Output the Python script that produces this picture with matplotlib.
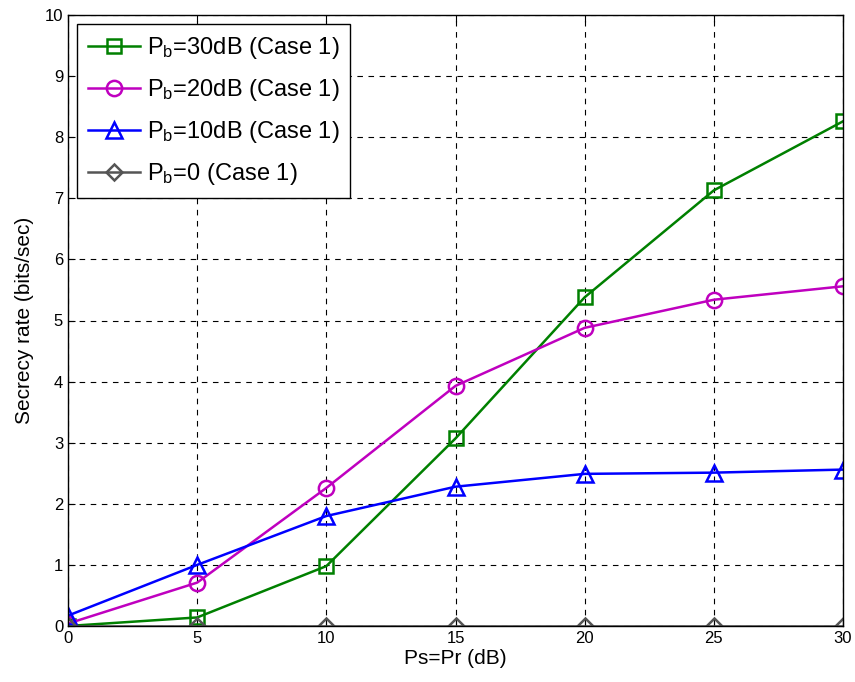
import numpy as np
import matplotlib.pyplot as plt

plt.rcParams['font.family'] = ['Liberation Sans', 'DejaVu Sans']
plt.rcParams['mathtext.fontset'] = 'custom'
plt.rcParams['mathtext.rm'] = 'Liberation Sans'
plt.rcParams['mathtext.it'] = 'Liberation Sans'

snr = [0, 5, 10, 15, 20, 25, 30]
rate_pb30 = [0.0, 0.14, 0.98, 3.07, 5.38, 7.13, 8.26]
rate_pb20 = [0.04, 0.71, 2.26, 3.93, 4.88, 5.34, 5.56]
rate_pb10 = [0.17, 1.0, 1.8, 2.28, 2.49, 2.51, 2.56]
rate_pb0 = [0, 0, 0, 0, 0, 0, 0]

fig = plt.figure(figsize=(8.55, 6.82), dpi=100)
ax = fig.add_axes([68/855, 1 - 626/682, 775/855, 611/682])

kw = dict(lw=1.8, mfc='none', mew=1.8)
ax.plot(snr, rate_pb30, color='#008000', marker='s', ms=10,
        label=r'P$_{\mathrm{b}}$=30dB (Case 1)', **kw)
ax.plot(snr, rate_pb20, color='#bf00bf', marker='o', ms=11,
        label=r'P$_{\mathrm{b}}$=20dB (Case 1)', **kw)
ax.plot(snr, rate_pb10, color='#0000ff', marker='^', ms=11,
        label=r'P$_{\mathrm{b}}$=10dB (Case 1)', **kw)
ax.plot(snr, rate_pb0, color='#555555', marker='D', ms=8,
        label=r'P$_{\mathrm{b}}$=0 (Case 1)', **kw)

ax.set_xlim(0, 30)
ax.set_ylim(0, 10)
ax.set_xticks(np.arange(0, 31, 5))
ax.set_yticks(np.arange(0, 11, 1))
ax.grid(True, color='black', linestyle=(0, (5, 5)), linewidth=0.8)
ax.tick_params(direction='in', labelsize=12, length=5, top=True, right=True)
for s in ax.spines.values():
    s.set_linewidth(1.0)

ax.set_xlabel('Ps=Pr (dB)', fontsize=15, labelpad=2)
ax.set_ylabel('Secrecy rate (bits/sec)', fontsize=15, labelpad=8)

leg = ax.legend(loc='upper left', fontsize=17, fancybox=False, framealpha=1,
                edgecolor='black', borderaxespad=0.4, handlelength=2.2,
                handletextpad=0.3, labelspacing=0.68, borderpad=0.45)
leg.get_frame().set_linewidth(1.0)

fig.savefig('out.png', dpi=100)
